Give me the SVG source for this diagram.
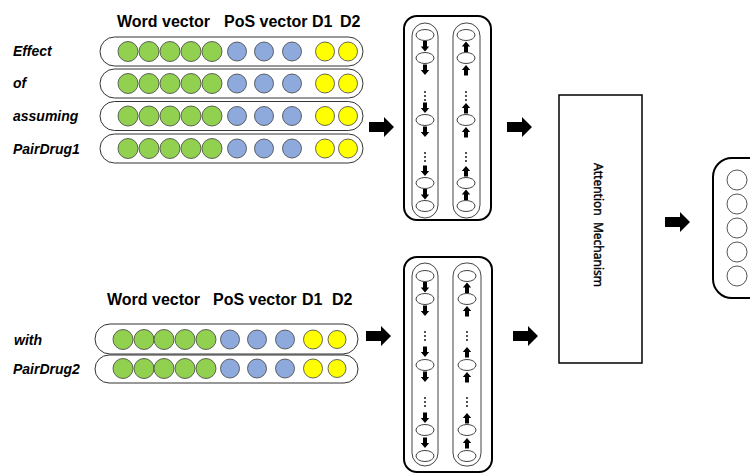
<svg xmlns="http://www.w3.org/2000/svg" xmlns:xlink="http://www.w3.org/1999/xlink" width="750" height="474" viewBox="0 0 750 474">
<style>
.hdr{font-family:"Liberation Sans",Arial,sans-serif;font-weight:bold;font-size:16px;fill:#000}
.lbl{font-family:"Liberation Sans",Arial,sans-serif;font-weight:bold;font-style:italic;font-size:14px;fill:#000}
.row{fill:#fff;stroke:#333;stroke-width:1}
.g{fill:#92D050;stroke:#404040;stroke-width:0.8}
.b{fill:#8EA9DB;stroke:#404040;stroke-width:0.8}
.y{fill:#FFFF00;stroke:#404040;stroke-width:0.8}
.outer{fill:#fff;stroke:#000;stroke-width:2}
.col{fill:none;stroke:#444;stroke-width:1}
.cell{fill:#fff;stroke:#444;stroke-width:1}
.att{fill:#fff;stroke:#000;stroke-width:1.5}
.attt{font-family:"Noto Sans","Open Sans",sans-serif;font-size:12px;fill:#000;stroke:#000;stroke-width:0.4}
.oc{fill:#fff;stroke:#555;stroke-width:1}
</style>
<defs>
<path id="bigArrow" d="M0,-5 H15 V-10 L25,0 L15,10 V5 H0 Z" fill="#000"/>
<path id="dn" d="M-2,-5.5 H2 V0 H4.2 L0,5 L-4.2,0 H-2 Z" fill="#000"/>
<path id="up" d="M-2,5.5 H2 V0 H4.2 L0,-5 L-4.2,0 H-2 Z" fill="#000"/>
<g id="dots" fill="#000"><circle cx="0" cy="-4" r="0.9"/><circle cx="0" cy="0" r="0.9"/><circle cx="0" cy="4" r="0.9"/></g>
<ellipse id="ell" cx="0" cy="0" rx="9" ry="5.5" class="cell"/>
</defs>

<!-- Top input block -->
<g id="top-input">
<text class="hdr" x="117" y="27">Word vector</text>
<text class="hdr" x="224" y="27">PoS vector</text>
<text class="hdr" x="312" y="27">D1</text>
<text class="hdr" x="340" y="27">D2</text>
</g>
<g id="row-effect">
<text class="lbl" x="13" y="56">Effect</text>
<rect class="row" x="100" y="37" width="263" height="29" rx="14.5"/>
<circle class="g" cx="128" cy="51.5" r="10"/><circle class="g" cx="149" cy="51.5" r="10"/><circle class="g" cx="170" cy="51.5" r="10"/><circle class="g" cx="191" cy="51.5" r="10"/><circle class="g" cx="212" cy="51.5" r="10"/>
<circle class="b" cx="237" cy="51.5" r="9.5"/><circle class="b" cx="264" cy="51.5" r="9.5"/><circle class="b" cx="292" cy="51.5" r="9.5"/>
<circle class="y" cx="325" cy="51.5" r="9.5"/><circle class="y" cx="348" cy="51.5" r="9.5"/>
</g>
<g id="row-of">
<text class="lbl" x="13" y="88">of</text>
<rect class="row" x="100" y="69" width="263" height="29" rx="14.5"/>
<circle class="g" cx="128" cy="83.5" r="10"/><circle class="g" cx="149" cy="83.5" r="10"/><circle class="g" cx="170" cy="83.5" r="10"/><circle class="g" cx="191" cy="83.5" r="10"/><circle class="g" cx="212" cy="83.5" r="10"/>
<circle class="b" cx="237" cy="83.5" r="9.5"/><circle class="b" cx="264" cy="83.5" r="9.5"/><circle class="b" cx="292" cy="83.5" r="9.5"/>
<circle class="y" cx="325" cy="83.5" r="9.5"/><circle class="y" cx="348" cy="83.5" r="9.5"/>
</g>
<g id="row-assuming">
<text class="lbl" x="13" y="121">assuming</text>
<rect class="row" x="100" y="101.5" width="263" height="29" rx="14.5"/>
<circle class="g" cx="128" cy="116" r="10"/><circle class="g" cx="149" cy="116" r="10"/><circle class="g" cx="170" cy="116" r="10"/><circle class="g" cx="191" cy="116" r="10"/><circle class="g" cx="212" cy="116" r="10"/>
<circle class="b" cx="237" cy="116" r="9.5"/><circle class="b" cx="264" cy="116" r="9.5"/><circle class="b" cx="292" cy="116" r="9.5"/>
<circle class="y" cx="325" cy="116" r="9.5"/><circle class="y" cx="348" cy="116" r="9.5"/>
</g>
<g id="row-pairdrug1">
<text class="lbl" x="13" y="154">PairDrug1</text>
<rect class="row" x="100" y="134" width="263" height="29" rx="14.5"/>
<circle class="g" cx="128" cy="148.5" r="10"/><circle class="g" cx="149" cy="148.5" r="10"/><circle class="g" cx="170" cy="148.5" r="10"/><circle class="g" cx="191" cy="148.5" r="10"/><circle class="g" cx="212" cy="148.5" r="10"/>
<circle class="b" cx="237" cy="148.5" r="9.5"/><circle class="b" cx="264" cy="148.5" r="9.5"/><circle class="b" cx="292" cy="148.5" r="9.5"/>
<circle class="y" cx="325" cy="148.5" r="9.5"/><circle class="y" cx="348" cy="148.5" r="9.5"/>
</g>

<!-- Bottom input block -->
<g id="bottom-input">
<text class="hdr" x="107" y="305">Word vector</text>
<text class="hdr" x="213" y="305">PoS vector</text>
<text class="hdr" x="302" y="305">D1</text>
<text class="hdr" x="332" y="305">D2</text>
</g>
<g id="row-with">
<text class="lbl" x="14" y="345">with</text>
<rect class="row" x="95" y="324" width="263" height="30" rx="15"/>
<circle class="g" cx="123" cy="339.5" r="10"/><circle class="g" cx="144" cy="339.5" r="10"/><circle class="g" cx="164" cy="339.5" r="10"/><circle class="g" cx="185" cy="339.5" r="10"/><circle class="g" cx="206" cy="339.5" r="10"/>
<circle class="b" cx="230" cy="339.5" r="9.5"/><circle class="b" cx="257" cy="339.5" r="9.5"/><circle class="b" cx="285" cy="339.5" r="9.5"/>
<circle class="y" cx="313" cy="339.5" r="9.5"/><circle class="y" cx="337" cy="339.5" r="9"/>
</g>
<g id="row-pairdrug2">
<text class="lbl" x="13" y="374">PairDrug2</text>
<rect class="row" x="95" y="355" width="263" height="28" rx="14"/>
<circle class="g" cx="123" cy="368.5" r="10"/><circle class="g" cx="144" cy="368.5" r="10"/><circle class="g" cx="164" cy="368.5" r="10"/><circle class="g" cx="185" cy="368.5" r="10"/><circle class="g" cx="206" cy="368.5" r="10"/>
<circle class="b" cx="230" cy="368.5" r="9.5"/><circle class="b" cx="257" cy="368.5" r="9.5"/><circle class="b" cx="285" cy="368.5" r="9.5"/>
<circle class="y" cx="313" cy="368.5" r="9.5"/><circle class="y" cx="337" cy="368.5" r="9"/>
</g>

<!-- Top BiLSTM -->
<g id="bilstm-top">
<rect class="outer" x="404" y="16" width="87" height="204" rx="13"/>
<rect class="col" x="412" y="23" width="26" height="195" rx="13"/>
<rect class="col" x="453" y="23" width="27" height="195" rx="13"/>
<use xlink:href="#ell" x="425" y="35"/><use xlink:href="#ell" x="425" y="58"/><use xlink:href="#ell" x="425" y="120"/><use xlink:href="#ell" x="425" y="183"/><use xlink:href="#ell" x="425" y="206"/>
<use xlink:href="#dn" x="425" y="46.5"/><use xlink:href="#dn" x="425" y="70"/><use xlink:href="#dn" x="425" y="108"/><use xlink:href="#dn" x="425" y="132"/><use xlink:href="#dn" x="425" y="171"/><use xlink:href="#dn" x="425" y="194.5"/>
<use xlink:href="#dots" x="425" y="96"/><use xlink:href="#dots" x="425" y="157"/>
<use xlink:href="#ell" x="466" y="35"/><use xlink:href="#ell" x="466" y="58"/><use xlink:href="#ell" x="466" y="120"/><use xlink:href="#ell" x="466" y="183"/><use xlink:href="#ell" x="466" y="206"/>
<use xlink:href="#up" x="466" y="46.5"/><use xlink:href="#up" x="466" y="70"/><use xlink:href="#up" x="466" y="108"/><use xlink:href="#up" x="466" y="132"/><use xlink:href="#up" x="466" y="171"/><use xlink:href="#up" x="466" y="194.5"/>
<use xlink:href="#dots" x="466" y="96"/><use xlink:href="#dots" x="466" y="157"/>
</g>

<!-- Bottom BiLSTM -->
<g id="bilstm-bottom">
<rect class="outer" x="404" y="257" width="88" height="215" rx="13"/>
<rect class="col" x="412" y="263" width="26" height="203" rx="13"/>
<rect class="col" x="453" y="263" width="28" height="203" rx="13"/>
<use xlink:href="#ell" x="425" y="276"/><use xlink:href="#ell" x="425" y="299"/><use xlink:href="#ell" x="425" y="365"/><use xlink:href="#ell" x="425" y="430"/><use xlink:href="#ell" x="425" y="456"/>
<use xlink:href="#dn" x="425" y="287.5"/><use xlink:href="#dn" x="425" y="311"/><use xlink:href="#dn" x="425" y="352"/><use xlink:href="#dn" x="425" y="377"/><use xlink:href="#dn" x="425" y="418"/><use xlink:href="#dn" x="425" y="443"/>
<use xlink:href="#dots" x="425" y="336"/><use xlink:href="#dots" x="425" y="402"/>
<use xlink:href="#ell" x="467" y="276"/><use xlink:href="#ell" x="467" y="299"/><use xlink:href="#ell" x="467" y="365"/><use xlink:href="#ell" x="467" y="430"/><use xlink:href="#ell" x="467" y="456"/>
<use xlink:href="#up" x="467" y="287.5"/><use xlink:href="#up" x="467" y="311"/><use xlink:href="#up" x="467" y="352"/><use xlink:href="#up" x="467" y="377"/><use xlink:href="#up" x="467" y="418"/><use xlink:href="#up" x="467" y="443"/>
<use xlink:href="#dots" x="467" y="336"/><use xlink:href="#dots" x="467" y="402"/>
</g>

<!-- Attention -->
<g id="attention">
<rect class="att" x="559" y="95" width="83" height="268"/>
<text class="attt" transform="translate(594,225) rotate(90)" text-anchor="middle" xml:space="preserve">Attention  Mechanism</text>
</g>

<!-- Output -->
<g id="output">
<rect class="outer" x="713" y="158" width="60" height="140" rx="19"/>
<circle class="oc" cx="737" cy="180" r="10"/><circle class="oc" cx="737" cy="204" r="10"/><circle class="oc" cx="737" cy="228" r="10"/><circle class="oc" cx="737" cy="252" r="10"/><circle class="oc" cx="737" cy="276" r="10"/>
</g>

<!-- Connectors -->
<g id="connectors">
<use xlink:href="#bigArrow" x="369" y="127"/>
<use xlink:href="#bigArrow" x="507" y="127"/>
<use xlink:href="#bigArrow" x="366" y="336"/>
<use xlink:href="#bigArrow" x="513" y="336"/>
<use xlink:href="#bigArrow" x="665" y="222"/>
</g>
</svg>
